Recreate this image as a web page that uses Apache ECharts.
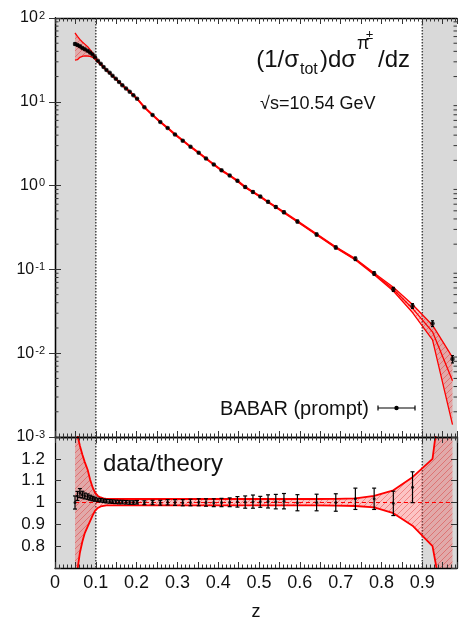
<!DOCTYPE html>
<html>
<head>
<meta charset="utf-8">
<script src="https://cdn.jsdelivr.net/npm/echarts@6/dist/echarts.min.js"></script>
<style>
  html, body { margin: 0; padding: 0; background: #fff; }
  #chart { width: 460px; height: 622px; }
</style>
</head>
<body>
<div id="chart"></div>
<script>
// BABAR prompt pi+- cross section at sqrt(s) = 10.54 GeV, compared with the theory fit
const zVals = [0.049, 0.055, 0.061, 0.067, 0.073, 0.080, 0.086, 0.092, 0.098, 0.105,
  0.112, 0.119, 0.126, 0.134, 0.141, 0.149, 0.157, 0.165, 0.174, 0.183,
  0.192, 0.201, 0.219, 0.239, 0.258, 0.276, 0.294, 0.313, 0.332, 0.352,
  0.370, 0.389, 0.408, 0.428, 0.447, 0.466, 0.485, 0.503, 0.522, 0.541,
  0.561, 0.594, 0.641, 0.688, 0.736, 0.782, 0.829, 0.876, 0.925, 0.974];

// (1/sigma_tot) dsigma/dz
const xsec = [49.0, 47.5, 46.0, 44.0, 42.4, 40.6, 38.8, 36.8, 34.0, 30.8,
  28.4, 26.1, 24.0, 22.2, 20.4, 18.8, 17.2, 15.8, 14.4, 13.2,
  12.0, 10.9, 8.6, 6.95, 5.73, 4.86, 4.08, 3.44, 2.91, 2.47,
  2.10, 1.78, 1.52, 1.32, 1.14, 0.96, 0.84, 0.74, 0.64, 0.557,
  0.481, 0.373, 0.261, 0.183, 0.134, 0.0896, 0.0578, 0.0366, 0.0226, 0.0085];

// relative uncertainty of each data point
const relErr = [0.030, 0.020, 0.020, 0.015, 0.013, 0.012, 0.011, 0.010, 0.009, 0.008,
  0.008, 0.008, 0.008, 0.008, 0.008, 0.008, 0.008, 0.008, 0.008, 0.008,
  0.008, 0.008, 0.009, 0.010, 0.011, 0.012, 0.013, 0.014, 0.015, 0.016,
  0.017, 0.018, 0.019, 0.020, 0.024, 0.028, 0.030, 0.025, 0.030, 0.033,
  0.035, 0.037, 0.038, 0.040, 0.048, 0.048, 0.056, 0.066, 0.08, 0.10];

// data / theory
const ratio = [1.000, 1.030, 1.043, 1.036, 1.030, 1.027, 1.022, 1.018, 1.015, 1.012,
  1.010, 1.008, 1.006, 1.005, 1.004, 1.003, 1.002, 1.002, 1.001, 1.000,
  1.000, 1.001, 0.999, 1.000, 0.999, 1.001, 1.000, 0.999, 1.000, 1.001,
  1.000, 0.999, 1.000, 1.001, 1.003, 1.002, 1.004, 1.003, 1.005, 1.004,
  1.006, 0.999, 1.000, 1.000, 1.017, 1.017, 0.996, 1.070, 1.256, 1.81];

// theory uncertainty band, relative to the central theory curve
const bandUp = [1.36, 1.31, 1.26, 1.22, 1.185, 1.15, 1.105, 1.07, 1.045, 1.03,
  1.023, 1.019, 1.017, 1.016, 1.016, 1.016, 1.016, 1.016, 1.016, 1.016,
  1.016, 1.016, 1.016, 1.016, 1.016, 1.016, 1.016, 1.016, 1.016, 1.016,
  1.016, 1.016, 1.016, 1.016, 1.016, 1.016, 1.016, 1.016, 1.016, 1.016,
  1.016, 1.016, 1.016, 1.017, 1.019, 1.03, 1.056, 1.116, 1.20, 1.90];
const bandDown = [0.64, 0.69, 0.77, 0.82, 0.86, 0.89, 0.915, 0.94, 0.962, 0.975,
  0.982, 0.985, 0.987, 0.987, 0.987, 0.987, 0.987, 0.987, 0.987, 0.987,
  0.987, 0.987, 0.987, 0.987, 0.987, 0.987, 0.987, 0.987, 0.987, 0.987,
  0.987, 0.987, 0.987, 0.987, 0.987, 0.987, 0.987, 0.987, 0.987, 0.987,
  0.987, 0.987, 0.987, 0.986, 0.984, 0.978, 0.951, 0.894, 0.80, 0.30];

// fit region limits and axis ranges
const zCutLow = 0.1;
const zCutHigh = 0.9;
const zMax = 0.985;
const xTickLabels = ['0', '0.1', '0.2', '0.3', '0.4', '0.5', '0.6', '0.7', '0.8', '0.9'];
const ratioTickLabels = ['0.8', '0.9', '1', '1.1', '1.2'];
const logDecades = [-3, -2, -1, 0, 1, 2];

const FONT = "'Liberation Sans', Arial, Helvetica, sans-serif";
const RED = '#ff0000';

// derived quantities
const theory = xsec.map((v, i) => v / ratio[i]);
const theoryUp = theory.map((v, i) => v * bandUp[i]);
const theoryDown = theory.map((v, i) => v * bandDown[i]);
const pts = (ys) => zVals.map((z, i) => [z, ys[i]]);
const dataErr = zVals.map((z, i) => [z, xsec[i] * (1 - relErr[i]), xsec[i] * (1 + relErr[i])]);
const inFit = zVals.map((z, i) => i).filter(i => zVals[i] < zCutHigh);
const ratioPts = inFit.map(i => [zVals[i], ratio[i]]);
const ratioErr = inFit.map(i => [zVals[i], ratio[i] * (1 - relErr[i]), ratio[i] * (1 + relErr[i])]);

// minor ticks of the log axis (2..9 x 10^n)
const logMinor = [];
logDecades.slice(0, -1).forEach(e => { for (let k = 2; k <= 9; k++) logMinor.push([0.5, k * Math.pow(10, e)]); });

// hatch texture for the theory band
const hatch = document.createElement('canvas');
hatch.width = 6; hatch.height = 6;
(function () {
  const c = hatch.getContext('2d');
  c.fillStyle = 'rgba(245,60,60,0.30)';
  c.fillRect(0, 0, 6, 6);
  c.strokeStyle = 'rgba(210,0,0,0.40)';
  c.lineWidth = 0.8;
  c.beginPath();
  c.moveTo(0, 6); c.lineTo(6, 0);
  c.moveTo(-1, 1); c.lineTo(1, -1);
  c.moveTo(5, 7); c.lineTo(7, 5);
  c.stroke();
})();

function xAxisDef(grid, pos, labels) {
  return {
    type: 'value', gridIndex: grid, position: pos, min: 0, max: zMax, interval: 0.05, z: 10,
    axisLine: { show: true, onZero: false, lineStyle: { color: '#000', width: 1.3 } },
    axisTick: { show: true, inside: true, length: 6, lineStyle: { color: '#333', width: 1 } },
    minorTick: { show: true, splitNumber: 5, length: 3.5, lineStyle: { color: '#333', width: 1 } },
    splitLine: { show: false },
    axisLabel: labels ? {
      show: true, margin: 6, fontSize: 18, fontFamily: FONT, color: '#111',
      formatter: v => {
        const k = Math.round(v * 20);
        if (Math.abs(v * 20 - k) > 1e-6 || k % 2 !== 0) return '';
        return xTickLabels[k / 2] || '';
      }
    } : { show: false },
    name: labels ? 'z' : '',
    nameLocation: 'middle', nameGap: 35,
    nameTextStyle: { fontSize: 18, fontFamily: FONT, color: '#111' }
  };
}

function logAxisDef(pos, labels) {
  return {
    type: 'log', logBase: 10, gridIndex: 0, position: pos, min: 0.001, max: 100, z: 10,
    axisLine: { show: true, lineStyle: { color: '#000', width: 1.3 } },
    axisTick: { show: true, inside: true, length: 6, lineStyle: { color: '#333', width: 1 } },
    splitLine: { show: false },
    axisLabel: labels ? {
      show: true, margin: 10,
      formatter: v => {
        const e = Math.round(Math.log10(v));
        return logDecades.indexOf(e) >= 0 ? '{b|10}{e|' + e + '}' : '';
      },
      rich: {
        b: { fontSize: 16, fontFamily: FONT, color: '#111', lineHeight: 16, verticalAlign: 'bottom' },
        e: { fontSize: 11, fontFamily: FONT, color: '#111', lineHeight: 11, verticalAlign: 'top', padding: [0, 0, 13, 1] }
      }
    } : { show: false }
  };
}

function ratioAxisDef(pos, labels) {
  return {
    type: 'value', gridIndex: 1, position: pos, min: 0.7, max: 1.3, interval: 0.1, z: 10,
    axisLine: { show: true, onZero: false, lineStyle: { color: '#000', width: 1.3 } },
    axisTick: { show: true, inside: true, length: 6, lineStyle: { color: '#333', width: 1 } },
    splitLine: { show: false },
    axisLabel: labels ? {
      show: true, margin: 10, fontSize: 17, fontFamily: FONT, color: '#111',
      formatter: v => {
        const k = Math.round((v - 0.8) * 10);
        return ratioTickLabels[k] !== undefined ? ratioTickLabels[k] : '';
      }
    } : { show: false }
  };
}

// grey regions outside the fit range, with dotted boundaries
function cutsSeries(xi, yi) {
  return {
    type: 'custom', xAxisIndex: xi, yAxisIndex: yi, z: 1, silent: true,
    data: [[0, zCutLow, zCutLow], [zCutHigh, zMax, zCutHigh]],
    encode: { x: [0, 1] },
    renderItem: (params, api) => {
      const cs = params.coordSys;
      const x0 = api.coord([api.value(0), 1])[0];
      const x1 = api.coord([api.value(1), 1])[0];
      const xe = api.coord([api.value(2), 1])[0];
      return {
        type: 'group', children: [
          { type: 'rect', shape: { x: x0, y: cs.y, width: x1 - x0, height: cs.height }, style: { fill: '#d9d9d9' } },
          { type: 'line', shape: { x1: xe, y1: cs.y, x2: xe, y2: cs.y + cs.height },
            style: { stroke: '#444', lineWidth: 1.5, lineDash: [1.5, 1.5] } }
        ]
      };
    }
  };
}

// filled theory band between lower and upper curves
function bandSeries(xi, yi, lo, hi) {
  return {
    type: 'custom', xAxisIndex: xi, yAxisIndex: yi, z: 2, silent: true, clip: true,
    data: [[0.5, 1]],
    renderItem: (params, api) => {
      const poly = [];
      for (let i = 0; i < zVals.length; i++) poly.push(api.coord([zVals[i], hi[i]]));
      for (let i = zVals.length - 1; i >= 0; i--) poly.push(api.coord([zVals[i], lo[i]]));
      const cs = params.coordSys;
      return {
        type: 'group',
        clipPath: { type: 'rect', shape: { x: cs.x, y: cs.y, width: cs.width, height: cs.height } },
        children: [{ type: 'polygon', shape: { points: poly }, style: { fill: { image: hatch, repeat: 'repeat' } } }]
      };
    }
  };
}

function lineSeries(xi, yi, data, width, dashed) {
  return {
    type: 'line', xAxisIndex: xi, yAxisIndex: yi, z: 3, silent: true,
    data: data, showSymbol: false, symbol: 'none', clip: true, animation: false,
    lineStyle: { color: RED, width: width, type: dashed ? [4, 3] : 'solid' }
  };
}

function errSeries(xi, yi, data, cap) {
  return {
    type: 'custom', xAxisIndex: xi, yAxisIndex: yi, z: 4, silent: true, clip: true,
    data: data, encode: { x: 0, y: [1, 2] },
    renderItem: (params, api) => {
      const a = api.coord([api.value(0), api.value(1)]);
      const b = api.coord([api.value(0), api.value(2)]);
      const st = { stroke: '#000', lineWidth: 1.2 };
      return {
        type: 'group', children: [
          { type: 'line', shape: { x1: a[0], y1: a[1], x2: b[0], y2: b[1] }, style: st },
          { type: 'line', shape: { x1: a[0] - cap, y1: a[1], x2: a[0] + cap, y2: a[1] }, style: st },
          { type: 'line', shape: { x1: b[0] - cap, y1: b[1], x2: b[0] + cap, y2: b[1] }, style: st }
        ]
      };
    }
  };
}

function dotSeries(xi, yi, data, size) {
  return {
    type: 'scatter', xAxisIndex: xi, yAxisIndex: yi, z: 5, silent: true,
    data: data, symbol: 'circle', symbolSize: size,
    itemStyle: { color: '#000' }
  };
}

const chart = echarts.init(document.getElementById('chart'), null, { renderer: 'canvas' });

const txt = (x, y, text, size, align) => ({
  type: 'text', x: x, y: y, z: 20,
  style: { text: text, fontSize: size, fontFamily: FONT, fill: '#111',
    textAlign: align || 'left', textVerticalAlign: 'middle', verticalAlign: 'middle' }
});

chart.setOption({
  animation: false,
  backgroundColor: '#fff',
  grid: [
    { left: 55, top: 18, width: 402, height: 419 },
    { left: 55, top: 437, width: 402, height: 139 }
  ],
  xAxis: [
    xAxisDef(0, 'bottom', false),
    xAxisDef(0, 'top', false),
    xAxisDef(1, 'bottom', true),
    xAxisDef(1, 'top', false)
  ],
  yAxis: [
    logAxisDef('left', true),
    logAxisDef('right', false),
    ratioAxisDef('left', true),
    ratioAxisDef('right', false)
  ],
  series: [
    // upper panel: cross section
    cutsSeries(0, 0),
    bandSeries(0, 0, theoryDown, theoryUp),
    lineSeries(0, 0, pts(theoryUp), 1.3),
    lineSeries(0, 0, pts(theoryDown), 1.3),
    lineSeries(0, 0, pts(theory), 1.3),
    errSeries(0, 0, dataErr, 1.5),
    dotSeries(0, 0, pts(xsec), 4.5),
    {
      type: 'custom', xAxisIndex: 0, yAxisIndex: 0, z: 11, silent: true,
      data: logMinor, encode: { y: 1 },
      renderItem: (params, api) => {
        const cs = params.coordSys;
        const y = api.coord([0.5, api.value(1)])[1];
        const st = { stroke: '#333', lineWidth: 1 };
        return {
          type: 'group', children: [
            { type: 'line', shape: { x1: cs.x, y1: y, x2: cs.x + 3.5, y2: y }, style: st },
            { type: 'line', shape: { x1: cs.x + cs.width - 3.5, y1: y, x2: cs.x + cs.width, y2: y }, style: st }
          ]
        };
      }
    },
    // lower panel: data / theory
    cutsSeries(2, 2),
    bandSeries(2, 2, bandDown, bandUp),
    lineSeries(2, 2, pts(bandUp), 1.8),
    lineSeries(2, 2, pts(bandDown), 1.8),
    lineSeries(2, 2, [[zVals[0], 1], [zVals[zVals.length - 1], 1]], 1, true),
    errSeries(2, 2, ratioErr, 2),
    dotSeries(2, 2, ratioPts, 3)
  ],
  graphic: [
    txt(299, 60, '(1/σ', 24, 'right'),
    txt(300, 70, 'tot', 16),
    txt(320, 60, ')dσ', 24),
    txt(357, 44, 'π', 18),
    txt(366, 35, '±', 13),
    txt(378, 60, '/dz', 24),
    txt(260, 104, '√s=10.54 GeV', 18),
    txt(369, 409, 'BABAR (prompt)', 20, 'right'),
    { type: 'line', z: 20, shape: { x1: 378, y1: 408, x2: 415, y2: 408 }, style: { stroke: '#000', lineWidth: 1.2 } },
    { type: 'line', z: 20, shape: { x1: 378, y1: 405.5, x2: 378, y2: 410.5 }, style: { stroke: '#000', lineWidth: 1.2 } },
    { type: 'line', z: 20, shape: { x1: 415, y1: 405.5, x2: 415, y2: 410.5 }, style: { stroke: '#000', lineWidth: 1.2 } },
    { type: 'circle', z: 20, shape: { cx: 396.5, cy: 408, r: 2.2 }, style: { fill: '#000' } },
    txt(103, 464, 'data/theory', 24)
  ]
});
</script>
</body>
</html>
